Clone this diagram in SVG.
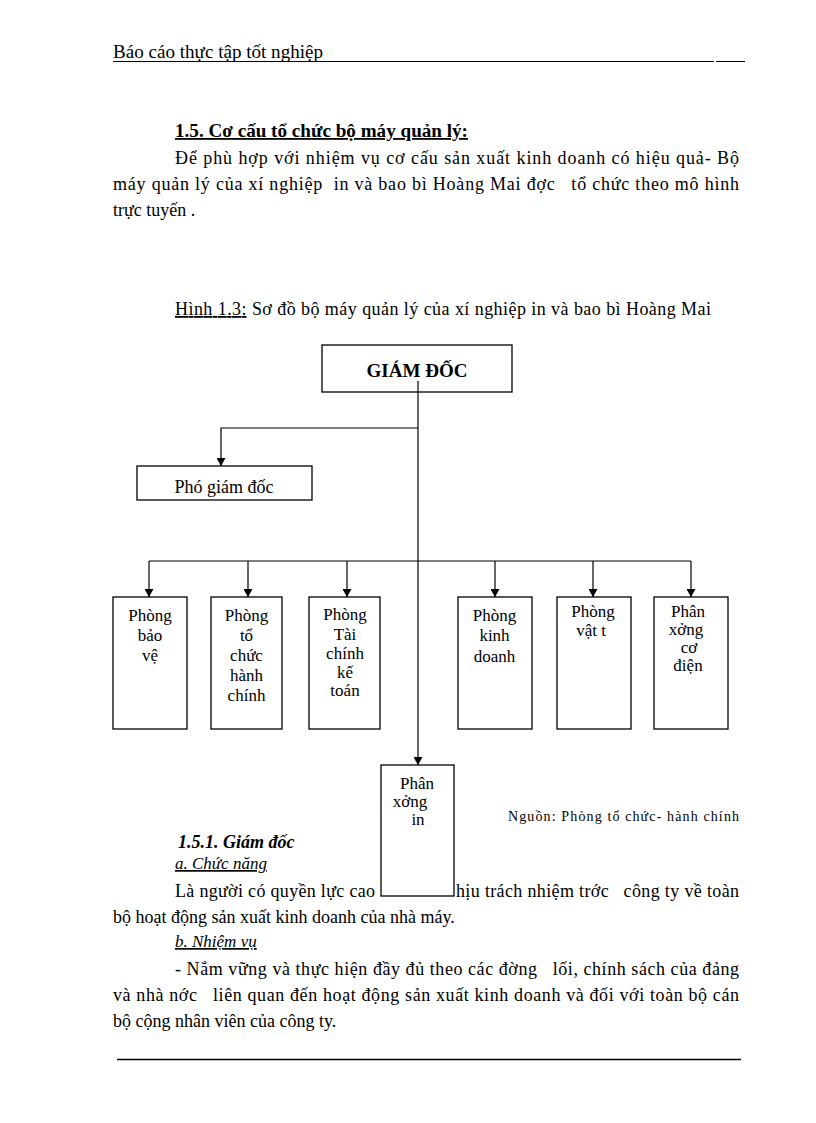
<svg xmlns="http://www.w3.org/2000/svg" width="816" height="1123" viewBox="0 0 816 1123">
<defs>
<marker id="arr" viewBox="0 0 8 9" refX="8" refY="4.5" markerWidth="8" markerHeight="9" markerUnits="userSpaceOnUse" orient="auto">
<path d="M0,0 L8,4.5 L0,9 z" fill="#000"/>
</marker>
<style>
text{font-family:"Liberation Serif","Times New Roman",serif;fill:#000;white-space:pre}
.b{font-size:18px}
.n{font-size:17px;text-anchor:middle}
.box{fill:#fff;stroke:#000;stroke-width:1.3}
.c{fill:none;stroke:#000;stroke-width:1.2}
.u{text-decoration:underline}
</style>
</defs>
<rect width="816" height="1123" fill="#fff"/>

<!-- header -->
<text x="113" y="58" class="b" textLength="210" lengthAdjust="spacingAndGlyphs">Báo cáo thực tập tốt nghiệp</text>
<line x1="113" y1="61.5" x2="714" y2="61.5" stroke="#000" stroke-width="1"/>
<line x1="716" y1="61.5" x2="745" y2="61.5" stroke="#000" stroke-width="1"/>

<text x="175" y="137" class="b u" font-weight="bold" textLength="293" lengthAdjust="spacingAndGlyphs">1.5. Cơ cấu tổ chức bộ máy quản lý:</text>
<text x="175" y="164" class="b" textLength="564" lengthAdjust="spacing">Để phù hợp với nhiệm vụ cơ cấu sản xuất kinh doanh có hiệu quả- Bộ</text>
<text x="113" y="190" class="b" textLength="626" lengthAdjust="spacing" xml:space="preserve">máy quản lý của xí nghiệp  in và bao bì Hoàng Mai đợc   tổ chức theo mô hình</text>
<text x="113" y="216" class="b">trực tuyến .</text>

<text x="175" y="315" class="b" textLength="536" lengthAdjust="spacing"><tspan class="u">Hình 1.3:</tspan> Sơ đồ bộ máy quản lý của xí nghiệp in và bao bì Hoàng Mai</text>

<!-- lower text (drawn before the Phân xưởng in box, which covers part of it) -->
<text x="178" y="848" font-size="18" font-weight="bold" font-style="italic">1.5.1. Giám đốc</text>
<text x="175" y="869" font-size="17" font-style="italic" class="u">a. Chức năng</text>
<text x="175" y="897" class="b" textLength="200" lengthAdjust="spacing">Là người có quyền lực cao</text>
<text x="456" y="897" class="b" textLength="283" lengthAdjust="spacing" xml:space="preserve">hịu trách nhiệm trớc   công ty về toàn</text>
<text x="113" y="923" class="b">bộ hoạt động sản xuất kinh doanh của nhà máy.</text>
<text x="175" y="947" font-size="17" font-style="italic" class="u">b. Nhiệm vụ</text>
<text x="175" y="975" class="b" textLength="564" lengthAdjust="spacing" xml:space="preserve">- Nắm vững và thực hiện đầy đủ theo các đờng   lối, chính sách của đảng</text>
<text x="113" y="1001" class="b" textLength="626" lengthAdjust="spacing" xml:space="preserve">và nhà nớc   liên quan đến hoạt động sản xuất kinh doanh và đối với toàn bộ cán</text>
<text x="113" y="1027" class="b">bộ cộng nhân viên của công ty.</text>
<text x="508" y="821" font-size="14" textLength="231" lengthAdjust="spacing">Nguồn: Phòng tổ chức- hành chính</text>

<line x1="117" y1="1059.5" x2="741" y2="1059.5" stroke="#000" stroke-width="1.3"/>

<!-- connectors -->
<g id="connectors">
<path class="c" d="M418,381 V765" marker-end="url(#arr)"/>
<path class="c" d="M418,428 H221 V466" marker-end="url(#arr)"/>
<path class="c" d="M149,561 H691"/>
<path class="c" d="M149,561 V597" marker-end="url(#arr)"/>
<path class="c" d="M248,561 V597" marker-end="url(#arr)"/>
<path class="c" d="M347,561 V597" marker-end="url(#arr)"/>
<path class="c" d="M495,561 V597" marker-end="url(#arr)"/>
<path class="c" d="M593,561 V597" marker-end="url(#arr)"/>
<path class="c" d="M691,561 V597" marker-end="url(#arr)"/>
</g>

<g id="giam-doc">
<rect class="box" x="322" y="345" width="190" height="47" fill-opacity="0"/>
<text x="417" y="377" font-size="19" font-weight="bold" text-anchor="middle">GIÁM ĐỐC</text>
</g>

<g id="pho-giam-doc">
<rect class="box" x="137" y="466" width="175" height="34"/>
<text x="224" y="493" font-size="18" text-anchor="middle">Phó giám đốc</text>
</g>

<g id="phong-bao-ve">
<rect class="box" x="113" y="597" width="74" height="132"/>
<text class="n" x="150" y="621">Phòng</text>
<text class="n" x="150" y="641">bảo</text>
<text class="n" x="150" y="661">vệ</text>
</g>

<g id="phong-to-chuc">
<rect class="box" x="211" y="597" width="71" height="132"/>
<text class="n" x="246.5" y="621">Phòng</text>
<text class="n" x="246.5" y="641">tổ</text>
<text class="n" x="246.5" y="661">chức</text>
<text class="n" x="246.5" y="681">hành</text>
<text class="n" x="246.5" y="701">chính</text>
</g>

<g id="phong-tai-chinh">
<rect class="box" x="309" y="597" width="71" height="132"/>
<text class="n" x="345" y="620">Phòng</text>
<text class="n" x="345" y="640">Tài</text>
<text class="n" x="345" y="659">chính</text>
<text class="n" x="345" y="678">kế</text>
<text class="n" x="345" y="696">toán</text>
</g>

<g id="phong-kinh-doanh">
<rect class="box" x="458" y="597" width="74" height="132"/>
<text class="n" x="494.5" y="621">Phòng</text>
<text class="n" x="494.5" y="641">kinh</text>
<text class="n" x="494.5" y="662">doanh</text>
</g>

<g id="phong-vat-tu">
<rect class="box" x="557" y="597" width="74" height="132"/>
<text class="n" x="593" y="617">Phòng</text>
<text class="n" x="591" y="636">vật t</text>
</g>

<g id="phan-xuong-co-dien">
<rect class="box" x="654" y="597" width="74" height="132"/>
<text class="n" x="688" y="617">Phân</text>
<text class="n" x="686" y="635">xởng</text>
<text class="n" x="689" y="653">cơ</text>
<text class="n" x="688" y="671">điện</text>
</g>

<g id="phan-xuong-in">
<rect class="box" x="381" y="765" width="73" height="131"/>
<text class="n" x="417" y="789">Phân</text>
<text class="n" x="410" y="807">xởng</text>
<text class="n" x="418" y="825">in</text>
</g>
</svg>
